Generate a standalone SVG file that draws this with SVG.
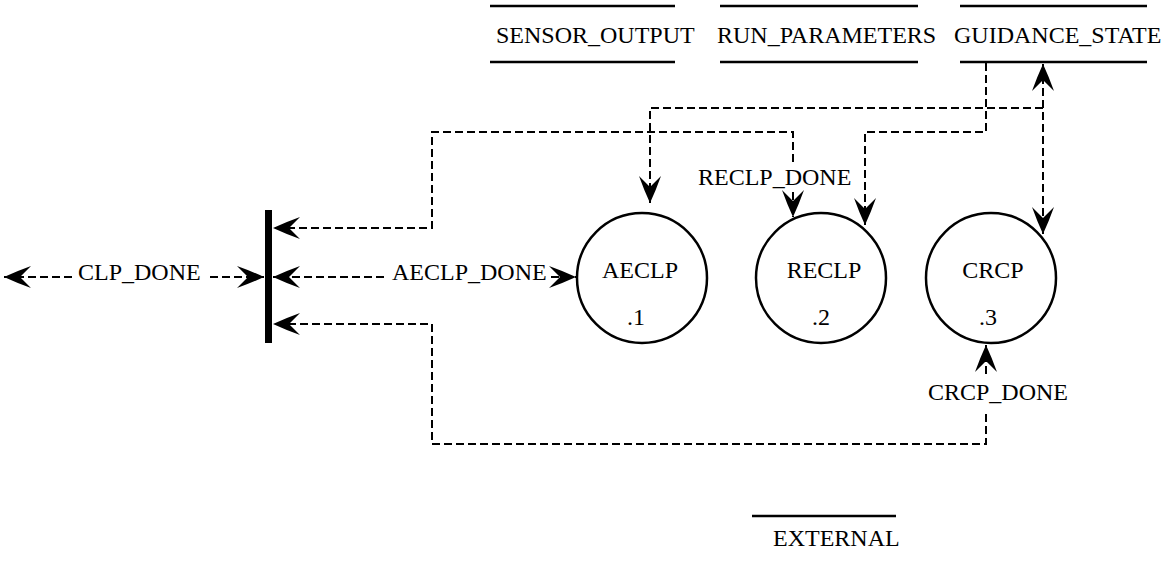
<svg xmlns="http://www.w3.org/2000/svg" width="1168" height="571" viewBox="0 0 1168 571">
<style>
text{font-family:"Liberation Serif","Times New Roman",serif;font-size:24px;fill:#000}
.c{text-anchor:middle}
.store{stroke:#000;stroke-width:2.5;fill:none}
.proc{stroke:#000;stroke-width:2.5;fill:#fff}
.flow{stroke:#000;stroke-width:2;fill:none;stroke-dasharray:8 4}
</style>
<defs>
<marker id="ah" viewBox="-30 -13 32 26" refX="0" refY="0" markerWidth="32" markerHeight="26" markerUnits="userSpaceOnUse" orient="auto-start-reverse">
<path d="M0,0 Q-13,-6 -27,-11 L-16,0 L-27,11 Q-13,6 0,0 Z" fill="#000"/>
</marker>
</defs>
<rect width="1168" height="571" fill="#fff"/>

<g id="store-sensor-output">
<line class="store" x1="490" y1="6" x2="675" y2="6"/>
<line class="store" x1="490" y1="62" x2="675" y2="62"/>
<text x="496" y="43">SENSOR_OUTPUT</text>
</g>
<g id="store-run-parameters">
<line class="store" x1="720" y1="6" x2="918" y2="6"/>
<line class="store" x1="720" y1="62" x2="918" y2="62"/>
<text x="717" y="43">RUN_PARAMETERS</text>
</g>
<g id="store-guidance-state">
<line class="store" x1="960" y1="6" x2="1147" y2="6"/>
<line class="store" x1="960" y1="62" x2="1147" y2="62"/>
<text x="954" y="43">GUIDANCE_STATE</text>
</g>
<g id="store-external">
<line class="store" x1="752" y1="516" x2="896" y2="516"/>
<text x="773" y="546">EXTERNAL</text>
</g>

<g id="bar">
<rect x="265" y="210" width="7" height="133" fill="#000"/>
</g>

<g id="proc-aeclp">
<circle class="proc" cx="642" cy="278" r="65"/>
<text class="c" x="640" y="278">AECLP</text>
<text class="c" x="636" y="325">.1</text>
</g>
<g id="proc-reclp">
<circle class="proc" cx="821" cy="278" r="65"/>
<text class="c" x="824" y="278">RECLP</text>
<text class="c" x="821" y="325">.2</text>
</g>
<g id="proc-crcp">
<circle class="proc" cx="991" cy="278" r="65"/>
<text class="c" x="993" y="278">CRCP</text>
<text class="c" x="988" y="325">.3</text>
</g>

<g id="connectors">
<!-- CLP_DONE -->
<path class="flow" d="M72,277 L4,277" marker-end="url(#ah)"/>
<path class="flow" d="M210,277 L264,277" marker-end="url(#ah)"/>
<text x="78" y="280">CLP_DONE</text>
<!-- AECLP_DONE -->
<path class="flow" d="M384,277 L273,277" marker-end="url(#ah)"/>
<path class="flow" d="M551,277 L576,277" marker-end="url(#ah)"/>
<text x="392" y="280">AECLP_DONE</text>
<!-- RECLP_DONE -->
<path class="flow" d="M793,162 L793,132 L432,132 L432,228 L273,228" marker-end="url(#ah)"/>
<path class="flow" d="M793,192 L793,217" marker-end="url(#ah)"/>
<text x="698" y="185">RECLP_DONE</text>
<!-- CRCP_DONE -->
<path class="flow" d="M986,414 L986,444 L432,444 L432,324 L273,324" marker-end="url(#ah)"/>
<path class="flow" d="M986,374 L986,345" marker-end="url(#ah)"/>
<text x="928" y="400">CRCP_DONE</text>
<!-- GUIDANCE_STATE flows -->
<path class="flow" d="M1043,64 L1043,234" marker-start="url(#ah)" marker-end="url(#ah)"/>
<path class="flow" d="M1043,108 L650,108 L650,203" marker-end="url(#ah)"/>
<path class="flow" d="M986,63 L986,132 L865,132 L865,225" marker-end="url(#ah)"/>
</g>
</svg>
